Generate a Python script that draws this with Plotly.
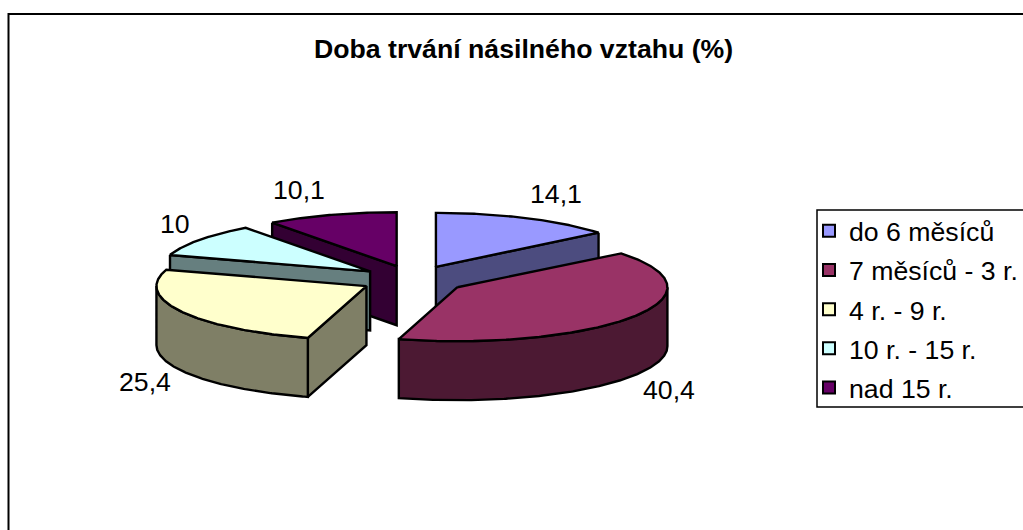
import math
import plotly.graph_objects as go

# --- data ---
title = "Doba trvání násilného vztahu (%)"
categories = ["do 6 měsíců", "7 měsíců - 3 r.", "4 r. - 9 r.", "10 r. - 15 r.", "nad 15 r."]
values = [14.1, 40.4, 25.4, 10, 10.1]

# --- styles ---
top_colors = ["#9999FF", "#993366", "#FFFFCC", "#CCFFFF", "#660066"]
side_colors = ["#4C4C7F", "#4C1933", "#7F7F66", "#667F7F", "#330033"]
draw_order = [4, 0, 3, 1, 2]
label_positions = [(556, 194), (669, 390), (145, 382), (175, 223.5), (299, 189.5)]
FONT = "Liberation Sans, Arial, sans-serif"
TEXT_SIZE = 26.67

# --- projection of the tilted pie (page pixels) ---
CX, CY = 413.2, 279.5
RX, RY = 210, 54
EX, EY = 53, 14
DEPTH = 59
LW = 2.4


def pt(ax, ay, deg):
    a = math.radians(deg)
    return ax + RX * math.sin(a), ay - RY * math.cos(a)


def arc(ax, ay, a0, a1):
    n = max(2, int(abs(a1 - a0) * 2))
    return [pt(ax, ay, a0 + (a1 - a0) * i / n) for i in range(n + 1)]


total = sum(values)
edges = [0]
for v in values:
    edges.append(edges[-1] + v / total * 360)


def face(points, color, name):
    pts = list(points) + [points[0]]
    return go.Scatter(
        x=[p[0] for p in pts], y=[p[1] for p in pts], mode="lines", fill="toself",
        fillcolor=color, line=dict(color="black", width=LW), showlegend=False,
        hoverinfo="text", text=name,
    )


fig = go.Figure()

for i in draw_order:
    a0, a1 = edges[i], edges[i + 1]
    mid = math.radians((a0 + a1) / 2)
    ax = CX + EX * math.sin(mid)
    ay = CY - EY * math.cos(mid)
    name = f"{categories[i]}: {values[i]}"
    # cut walls that face the viewer
    if math.sin(math.radians(a0)) < -1e-6:
        p = pt(ax, ay, a0)
        fig.add_trace(face([p, (ax, ay), (ax, ay + DEPTH), (p[0], p[1] + DEPTH)], side_colors[i], name))
    if math.sin(math.radians(a1)) > 1e-6:
        p = pt(ax, ay, a1)
        fig.add_trace(face([p, (ax, ay), (ax, ay + DEPTH), (p[0], p[1] + DEPTH)], side_colors[i], name))
    # curved rim
    s0, s1 = max(a0, 90), min(a1, 270)
    if s1 > s0:
        upper = arc(ax, ay, s0, s1)
        lower = [(x, y + DEPTH) for x, y in reversed(upper)]
        fig.add_trace(face(upper + lower, side_colors[i], name))
    # top face
    fig.add_trace(face([(ax, ay)] + arc(ax, ay, a0, a1), top_colors[i], name))

# legend entries
for cat, col in zip(categories, top_colors):
    fig.add_trace(go.Scatter(
        x=[None], y=[None], mode="markers", name=cat, legendgroup=cat,
        marker=dict(symbol="square", size=16, color=col, line=dict(color="black", width=2)),
    ))

annotations = [
    dict(x=lx, y=ly, xref="x", yref="y", text=f"{v:g}".replace(".", ","), showarrow=False,
         xanchor="center", yanchor="middle", font=dict(family=FONT, size=TEXT_SIZE, color="black"))
    for v, (lx, ly) in zip(values, label_positions)
]
annotations.append(dict(x=523.5, y=49, xref="x", yref="y", text=f"<b>{title}</b>", showarrow=False,
                        xanchor="center", yanchor="middle",
                        font=dict(family=FONT, size=TEXT_SIZE, color="black")))

fig.update_layout(
    width=1023, height=530, autosize=False,
    margin=dict(l=0, r=0, t=0, b=0),
    paper_bgcolor="white", plot_bgcolor="white",
    xaxis=dict(range=[0, 1023], visible=False, fixedrange=True),
    yaxis=dict(range=[530, 0], visible=False, fixedrange=True),
    shapes=[
        dict(type="rect", xref="x", yref="y", x0=8.5, y0=14, x1=1040, y1=560,
             line=dict(color="black", width=2), fillcolor="rgba(0,0,0,0)", layer="below"),
        dict(type="rect", xref="x", yref="y", x0=817, y0=210, x1=1040, y1=407,
             line=dict(color="black", width=1.5), fillcolor="white", layer="below"),
    ],
    annotations=annotations,
    showlegend=True,
    legend=dict(
        x=809 / 1023, xanchor="left", y=1 - 207 / 530, yanchor="top",
        bgcolor="rgba(0,0,0,0)", borderwidth=0, tracegroupgap=1.5, itemsizing="constant",
        font=dict(family=FONT, size=TEXT_SIZE, color="black"),
    ),
)

fig.write_html(
    "out.html",
    config={"displayModeBar": False},
    post_script="document.body.style.margin='0';document.documentElement.style.overflow='hidden';",
)
